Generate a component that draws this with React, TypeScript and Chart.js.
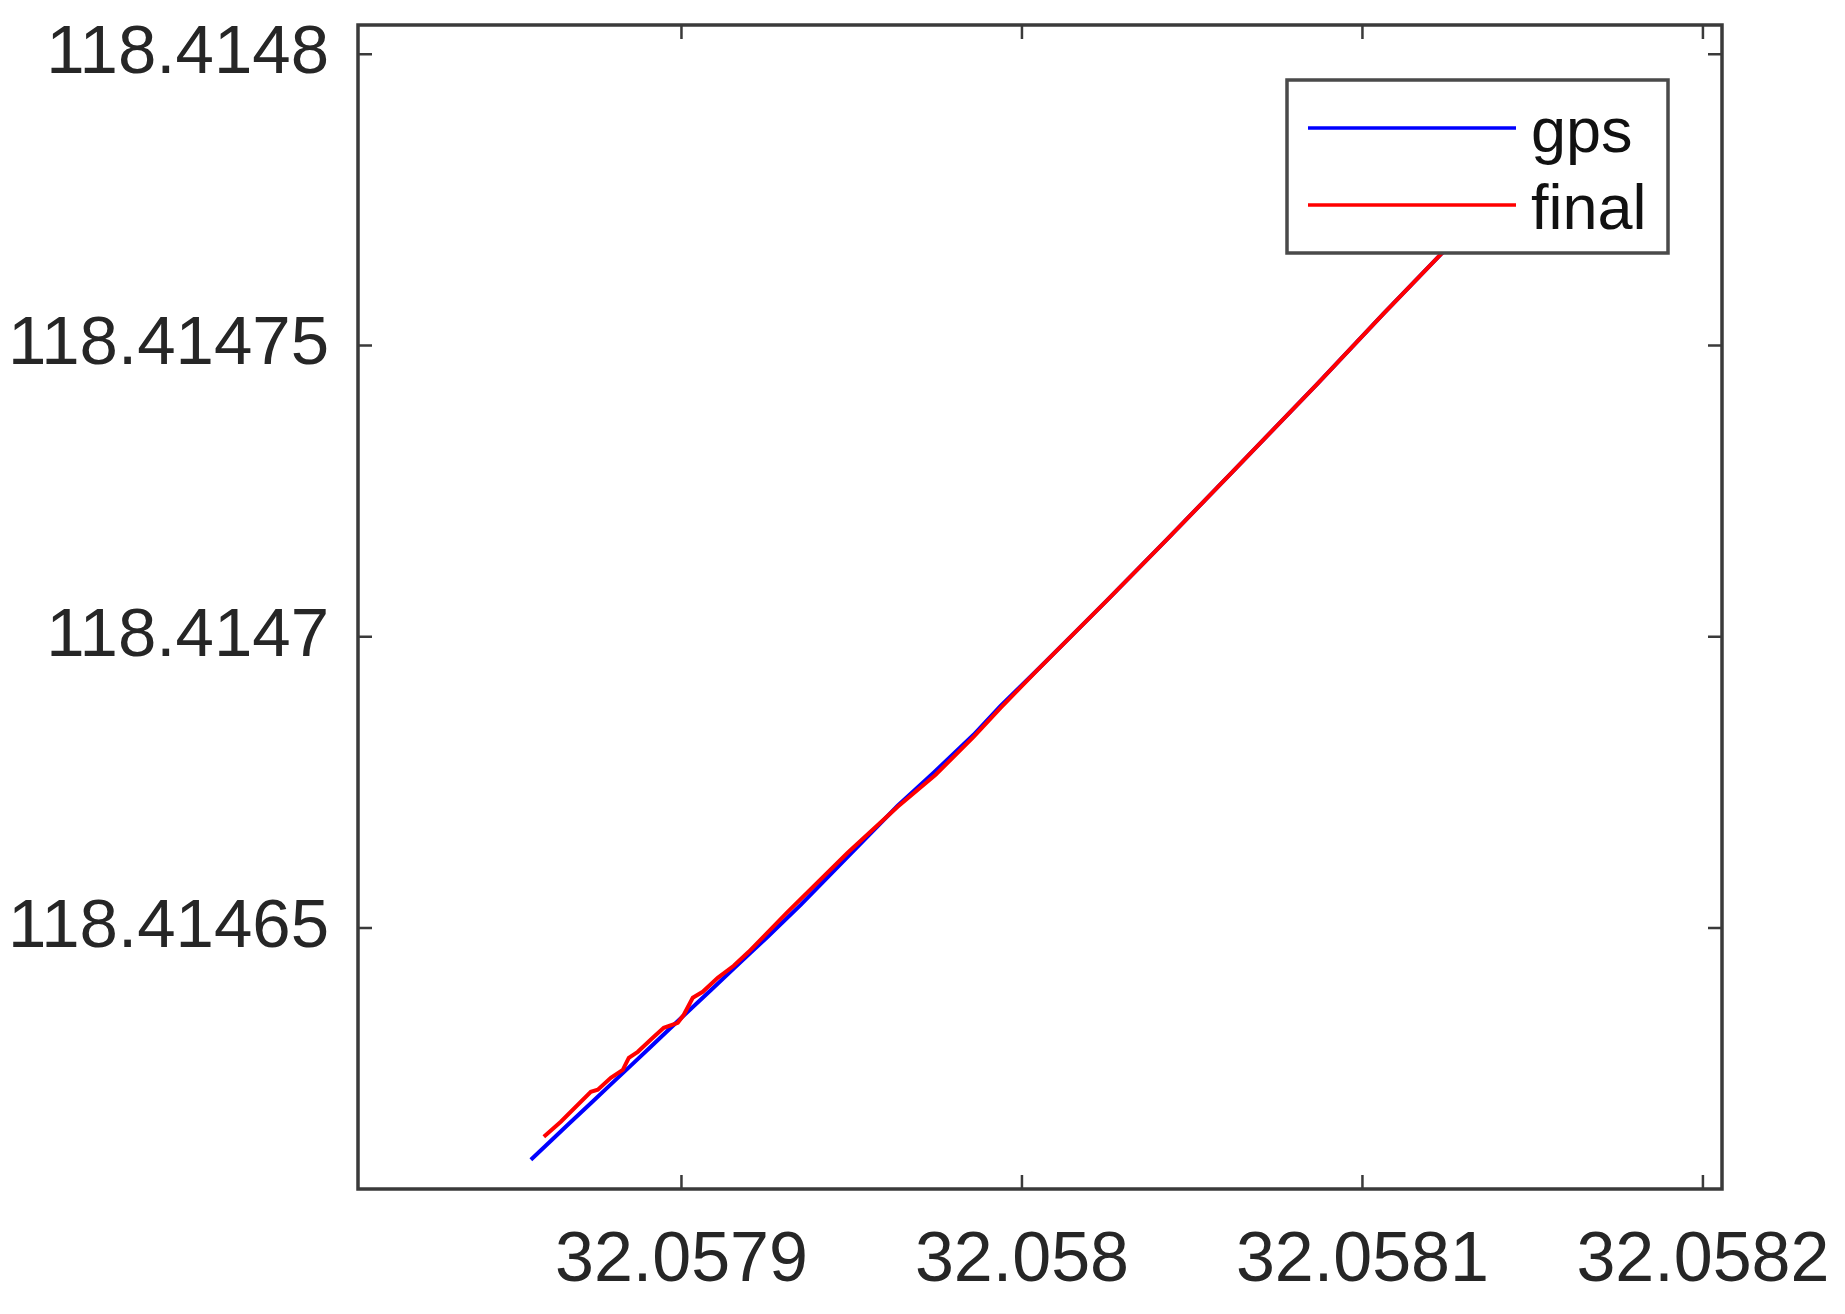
import { useEffect, useRef } from "react";
import { Chart, registerables } from "chart.js";

Chart.register(...registerables);

// ---- data ----
const SERIES_NAMES = ["gps", "final"];
const SERIES_COLORS = ["#0000FF", "#FF0000"];

const GPS_X = [
  32.05785577, 32.05786105, 32.05786663, 32.05787338, 32.05787925, 32.05788512,
  32.05789099, 32.05789686, 32.05790185, 32.0579086, 32.05791535, 32.05792122,
  32.05792533, 32.05793502, 32.05794881, 32.05796349, 32.05797405, 32.05798579,
  32.05799372, 32.05800458, 32.05801632, 32.05802513, 32.05804274, 32.05806211,
  32.05808676, 32.05810613, 32.05812286, 32.05813461,
];
const GPS_Y = [
  118.41461021, 118.41461313, 118.41461622, 118.41461991, 118.41462316, 118.41462638,
  118.41462961, 118.41463287, 118.41463562, 118.41463932, 118.41464303, 118.41464626,
  118.41464849, 118.41465398, 118.41466222, 118.41467098, 118.41467664, 118.41468316,
  118.41468814, 118.41469432, 118.41470118, 118.41470633, 118.4147168, 118.41472848,
  118.41474341, 118.41475542, 118.41476555, 118.41477242,
];

const FINAL_X = [
  32.05785958, 32.05786457, 32.05787338, 32.05787543, 32.05787925, 32.05788277,
  32.05788453, 32.05788717, 32.05789158, 32.0578948, 32.05789891, 32.05790068,
  32.05790332, 32.05790625, 32.05791065, 32.05791535, 32.05791975, 32.0579312,
  32.05794881, 32.05796349, 32.05797464, 32.05798579, 32.05799372, 32.05800458,
  32.05801632, 32.05802513, 32.05804274, 32.05806211, 32.05808676, 32.05810613,
  32.05812286, 32.05813461,
];
const FINAL_Y = [
  118.41461416, 118.41461674, 118.41462189, 118.41462223, 118.41462429, 118.41462566,
  118.41462772, 118.41462875, 118.41463115, 118.41463287, 118.41463373, 118.4146351,
  118.41463802, 118.41463905, 118.41464145, 118.41464351, 118.41464592, 118.41465278,
  118.41466291, 118.4146708, 118.4146763, 118.41468282, 118.4146878, 118.41469432,
  118.41470118, 118.41470633, 118.4147168, 118.41472848, 118.41474341, 118.41475542,
  118.41476555, 118.41477242,
];

const X_TICKS = [32.0579, 32.058, 32.0581, 32.0582];
const X_TICK_LABELS = ["32.0579", "32.058", "32.0581", "32.0582"];
const Y_TICKS = [118.41465, 118.4147, 118.41475, 118.4148];
const Y_TICK_LABELS = ["118.41465", "118.4147", "118.41475", "118.4148"];
const X_RANGE = [32.057805, 32.0582056];
const Y_RANGE = [118.4146052, 118.414805];

const FONT = "'Liberation Sans', Arial, sans-serif";
const AXIS_COLOR = "#3a3a3a";
const TEXT_COLOR = "#262626";

const framePlugin = {
  id: "matlabFrame",
  afterDatasetsDraw(chart: any) {
    const { ctx, chartArea: a } = chart;
    // legend box inside the axes (top-right)
    const lw = 381;
    const lh = 173;
    const lx = a.right - 54 - lw;
    const ly = a.top + 55;
    ctx.save();
    ctx.fillStyle = "#ffffff";
    ctx.fillRect(lx, ly, lw, lh);
    ctx.lineWidth = 3.5;
    ctx.strokeStyle = "#4a4a4a";
    ctx.strokeRect(lx, ly, lw, lh);
    ctx.font = `63px ${FONT}`;
    ctx.textBaseline = "alphabetic";
    ctx.textAlign = "left";
    chart.data.datasets.forEach((ds: any, i: number) => {
      const yLine = ly + 48 + i * 77;
      ctx.strokeStyle = ds.borderColor;
      ctx.lineWidth = 3.5;
      ctx.beginPath();
      ctx.moveTo(lx + 21, yLine);
      ctx.lineTo(lx + 229, yLine);
      ctx.stroke();
      ctx.fillStyle = "#111111";
      ctx.fillText(ds.label, lx + 244, yLine + 24);
    });
    ctx.restore();
  },
  afterDraw(chart: any) {
    const { ctx, chartArea: a, scales } = chart;
    ctx.save();
    ctx.strokeStyle = AXIS_COLOR;
    ctx.lineWidth = 3.5;
    ctx.strokeRect(a.left, a.top, a.right - a.left, a.bottom - a.top);
    ctx.lineWidth = 2.5;
    const tl = 14;
    ctx.beginPath();
    X_TICKS.forEach((v) => {
      const px = scales.x.getPixelForValue(v);
      ctx.moveTo(px, a.bottom);
      ctx.lineTo(px, a.bottom - tl);
      ctx.moveTo(px, a.top);
      ctx.lineTo(px, a.top + tl);
    });
    Y_TICKS.forEach((v) => {
      const py = scales.y.getPixelForValue(v);
      ctx.moveTo(a.left, py);
      ctx.lineTo(a.left + tl, py);
      ctx.moveTo(a.right, py);
      ctx.lineTo(a.right - tl, py);
    });
    ctx.stroke();
    ctx.restore();
  },
};

const zeroPadding = (s: any) => {
  s.paddingTop = 0;
  s.paddingBottom = 0;
  s.paddingLeft = 0;
  s.paddingRight = 0;
};

export default function App() {
  const ref = useRef<HTMLCanvasElement | null>(null);

  useEffect(() => {
    if (!ref.current) return;
    const chart = new Chart(ref.current, {
      type: "scatter",
      data: {
        datasets: [
          {
            label: SERIES_NAMES[0],
            data: GPS_X.map((x, i) => ({ x, y: GPS_Y[i] })),
            borderColor: SERIES_COLORS[0],
            backgroundColor: SERIES_COLORS[0],
            showLine: true,
            pointRadius: 0,
            borderWidth: 4,
            tension: 0,
            order: 2,
          },
          {
            label: SERIES_NAMES[1],
            data: FINAL_X.map((x, i) => ({ x, y: FINAL_Y[i] })),
            borderColor: SERIES_COLORS[1],
            backgroundColor: SERIES_COLORS[1],
            showLine: true,
            pointRadius: 0,
            borderWidth: 4,
            tension: 0,
            order: 1,
          },
        ],
      },
      options: {
        animation: false,
        responsive: false,
        devicePixelRatio: 1,
        layout: { padding: { top: 25, right: 123, left: 0, bottom: 0 } },
        plugins: {
          legend: { display: false },
          tooltip: { enabled: false },
        },
        scales: {
          x: {
            type: "linear",
            min: X_RANGE[0],
            max: X_RANGE[1],
            grid: { display: false, drawTicks: false },
            border: { display: false },
            afterBuildTicks: (s: any) => {
              s.ticks = X_TICKS.map((v) => ({ value: v }));
            },
            afterFit: (s: any) => {
              s.height = 125;
              zeroPadding(s);
            },
            ticks: {
              autoSkip: false,
              maxRotation: 0,
              minRotation: 0,
              padding: 31,
              color: TEXT_COLOR,
              font: { family: FONT, size: 70 },
              callback: (_v: any, i: number) => X_TICK_LABELS[i],
            },
          },
          y: {
            type: "linear",
            min: Y_RANGE[0],
            max: Y_RANGE[1],
            grid: { display: false, drawTicks: false },
            border: { display: false },
            afterBuildTicks: (s: any) => {
              s.ticks = Y_TICKS.map((v) => ({ value: v }));
            },
            afterFit: (s: any) => {
              s.width = 358;
              zeroPadding(s);
            },
            ticks: {
              autoSkip: false,
              padding: 29,
              color: TEXT_COLOR,
              font: { family: FONT, size: 69 },
              callback: (_v: any, i: number) => Y_TICK_LABELS[i],
            },
          },
        },
      },
      plugins: [framePlugin],
    });
    return () => chart.destroy();
  }, []);

  return (
    <div
      style={{
        position: "fixed",
        left: 0,
        top: 0,
        width: "1845px",
        height: "1314px",
        background: "#ffffff",
      }}
    >
      <canvas ref={ref} width={1845} height={1314} style={{ display: "block" }} />
    </div>
  );
}
